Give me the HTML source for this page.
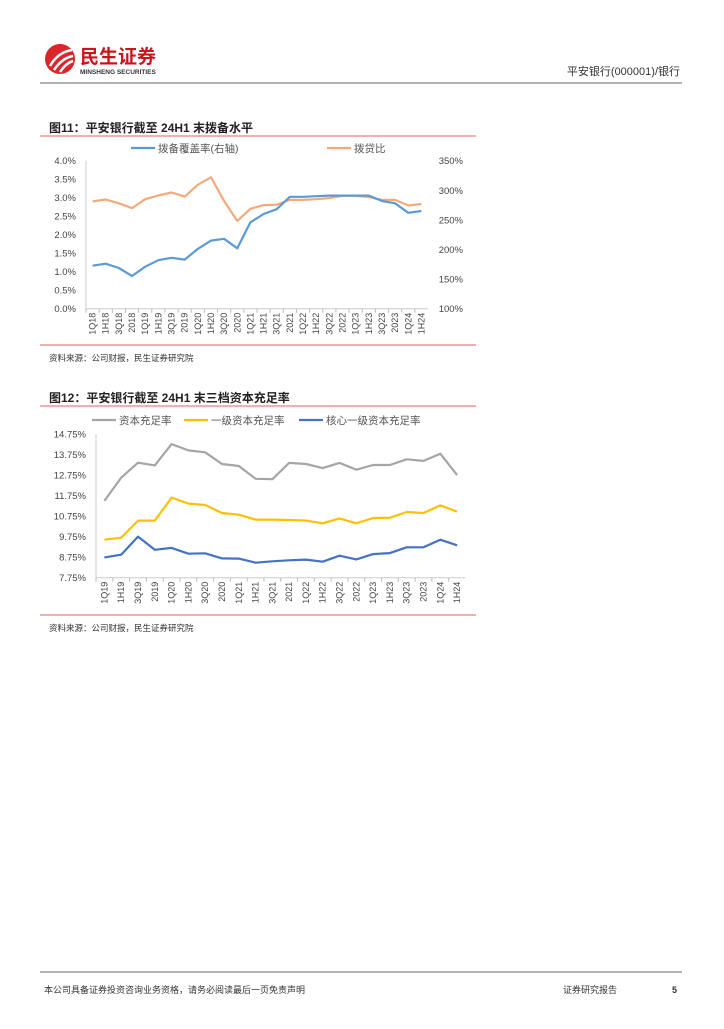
<!DOCTYPE html>
<html><head><meta charset="utf-8"><style>
body{margin:0;background:#fff;width:724px;height:1024px;overflow:hidden;font-family:"Liberation Sans","Noto Sans CJK SC",sans-serif}
svg text{font-family:"Liberation Sans","Noto Sans CJK SC",sans-serif}
</style></head><body>
<svg id="pg" width="724" height="1024" xmlns="http://www.w3.org/2000/svg">
<g>
<circle cx="60" cy="59" r="15" fill="#d9262c"/>
<path d="M50 66 Q58 52 72 50 M54 70 Q62 58 73 56 M60 72 Q66 63 73 61" stroke="#fff" stroke-width="2.5" fill="none"/>
<text x="80" y="63" font-size="19" font-weight="bold" fill="#c8161d">民生证券</text>
<text x="80" y="74" font-size="6.5" font-weight="bold" fill="#333">MINSHENG SECURITIES</text>
<line x1="40" y1="83" x2="682" y2="83" stroke="#666" stroke-width="1"/>
<text x="680" y="75" font-size="11" text-anchor="end" fill="#333">平安银行(000001)/银行</text>
</g>
<g id="c1"></g>
<g id="c2"></g>
<g>
<line x1="40" y1="972" x2="682" y2="972" stroke="#666" stroke-width="1"/>
<text x="44" y="993" font-size="9" fill="#333">本公司具备证券投资咨询业务资格，请务必阅读最后一页免责声明</text>
<text x="563" y="993" font-size="9" fill="#333">证券研究报告</text>
<text x="672" y="993" font-size="9" font-weight="bold" fill="#333">5</text>
</g>
</svg>
<script>
const c1Cats=["1Q18","1H18","3Q18","2018","1Q19","1H19","3Q19","2019","1Q20","1H20","3Q20","2020","1Q21","1H21","3Q21","2021","1Q22","1H22","3Q22","2022","1Q23","1H23","3Q23","2023","1Q24","1H24"];
const c1Ratio=[2.90,2.95,2.85,2.72,2.96,3.06,3.14,3.03,3.35,3.55,2.91,2.37,2.70,2.80,2.81,2.94,2.94,2.96,2.99,3.05,3.05,3.02,2.94,2.94,2.79,2.83];
const c1Coverage=[172.6,176,168.7,155.2,171,182,186,183,201,215,218,202,246,260,268,289,289,290,291,291,291,291,282,278,262,265];
const c1LeftTicks=["0.0%","0.5%","1.0%","1.5%","2.0%","2.5%","3.0%","3.5%","4.0%"];
const c1RightTicks=["100%","150%","200%","250%","300%","350%"];
const c2Cats=["1Q19","1H19","3Q19","2019","1Q20","1H20","3Q20","2020","1Q21","1H21","3Q21","2021","1Q22","1H22","3Q22","2022","1Q23","1H23","3Q23","2023","1Q24","1H24"];
const c2Total=[11.49,12.62,13.35,13.22,14.26,13.95,13.86,13.29,13.19,12.57,12.55,13.34,13.29,13.09,13.34,13.01,13.24,13.24,13.52,13.44,13.79,12.75];
const c2Tier1=[9.60,9.70,10.53,10.53,11.65,11.36,11.29,10.90,10.82,10.58,10.58,10.56,10.53,10.40,10.64,10.40,10.66,10.67,10.95,10.90,11.27,10.97];
const c2Core=[8.74,8.87,9.75,9.11,9.20,8.92,8.94,8.69,8.68,8.48,8.55,8.60,8.63,8.53,8.82,8.64,8.90,8.95,9.23,9.23,9.60,9.33];
const c2Ticks=["7.75%","8.75%","9.75%","10.75%","11.75%","12.75%","13.75%","14.75%"];
const NS="http://www.w3.org/2000/svg";
function mk(p,t,a,txt){const e=document.createElementNS(NS,t);for(const k in a)e.setAttribute(k,a[k]);if(txt!==undefined)e.textContent=txt;p.appendChild(e);return e;}
function frame(g,title,top,bottom,src){
 let e=mk(g,"text",{x:49,y:top-4,"font-size":12,"font-weight":"bold",fill:"#222"},title);
 
 
 mk(g,"line",{x1:40,y1:top,x2:476,y2:top,stroke:"#e06060","stroke-width":1});
 mk(g,"line",{x1:40,y1:bottom,x2:476,y2:bottom,stroke:"#e06060","stroke-width":1});
 e=mk(g,"text",{x:49,y:bottom+16,"font-size":8.5,fill:"#333"},src);
 
 
}
function line(g,xs,vals,yf,col,name){
 const pts=vals.map((v,i)=>xs(i).toFixed(1)+","+yf(v).toFixed(1)).join(" ");
 const e=mk(g,"polyline",{points:pts,fill:"none",stroke:col,"stroke-width":2.2,"stroke-linejoin":"round"});
 
 
}
function legend(g,x,y,col,label,name){
 const lg=mk(g,"g",{});
 
 
 mk(lg,"line",{x1:x,y1:y,x2:x+24,y2:y,stroke:col,"stroke-width":2.2});
 mk(lg,"text",{x:x+27,y:y+4,"font-size":10.5,fill:"#555"},label);
}
function xlabels(g,cats,xs,y0){
 cats.forEach((c,i)=>{const x=xs(i);
  mk(g,"line",{x1:x-(xs(1)-xs(0))/2,y1:y0,x2:x-(xs(1)-xs(0))/2,y2:y0+4,stroke:"#bbb"});
  const t=mk(g,"text",{x:0,y:0,"font-size":9,fill:"#444","text-anchor":"end",transform:`translate(${x+3},${y0+4}) rotate(-90)`},c);
  
  
 });
}
// chart 1
(function(){
 const g=document.getElementById("c1");
 frame(g,"图11：平安银行截至 24H1 末拨备水平",136,345,"资料来源：公司财报，民生证券研究院");
 const L=86,R=428,T=160.7,B=308.7,n=c1Cats.length,step=(R-L)/n;
 const xs=i=>L+step*(i+0.5);
 const yl=v=>B-(v/4)*(B-T);
 const yr=v=>B-((v-100)/250)*(B-T);
 mk(g,"line",{x1:L,y1:T,x2:L,y2:B,stroke:"#ccc"});
 mk(g,"line",{x1:L,y1:B,x2:R,y2:B,stroke:"#ccc"});
 c1LeftTicks.forEach((t,i)=>{const e=mk(g,"text",{x:L-10,y:yl(i*0.5)+3.5,"font-size":9.5,fill:"#444","text-anchor":"end"},t);});
 c1RightTicks.forEach((t,i)=>{const e=mk(g,"text",{x:463,y:yr(100+i*50)+3.5,"font-size":9.5,fill:"#444","text-anchor":"end"},t);});
 xlabels(g,c1Cats,xs,B);
 line(g,xs,c1Ratio,yl,"#f4a97a","provision-loan-ratio-line");
 line(g,xs,c1Coverage,yr,"#5b9bd5","coverage-ratio-line");
 legend(g,131,148,"#5b9bd5","拨备覆盖率(右轴)","legend-coverage");
 legend(g,327,148,"#f4a97a","拨贷比","legend-ratio");
})();
// chart 2
(function(){
 const g=document.getElementById("c2");
 frame(g,"图12：平安银行截至 24H1 末三档资本充足率",406,615,"资料来源：公司财报，民生证券研究院");
 const L=96,R=465.5,T=434,B=577.7,n=c2Cats.length,step=(R-L)/n;
 const xs=i=>L+step*(i+0.5);
 const y=v=>B-((v-7.75)/7)*(B-T);
 mk(g,"line",{x1:L,y1:T,x2:L,y2:B,stroke:"#ccc"});
 mk(g,"line",{x1:L,y1:B,x2:R,y2:B,stroke:"#ccc"});
 c2Ticks.forEach((t,i)=>{const e=mk(g,"text",{x:L-10,y:y(7.75+i)+3.5,"font-size":9.5,fill:"#444","text-anchor":"end"},t);});
 xlabels(g,c2Cats,xs,B);
 line(g,xs,c2Total,y,"#a5a5a5","capital-adequacy-line");
 line(g,xs,c2Tier1,y,"#ffc000","tier1-line");
 line(g,xs,c2Core,y,"#4472c4","core-tier1-line");
 legend(g,92,420,"#a5a5a5","资本充足率","legend-total");
 legend(g,184,420,"#ffc000","一级资本充足率","legend-tier1");
 legend(g,299,420,"#4472c4","核心一级资本充足率","legend-core");
})();
</script>
</body></html>
